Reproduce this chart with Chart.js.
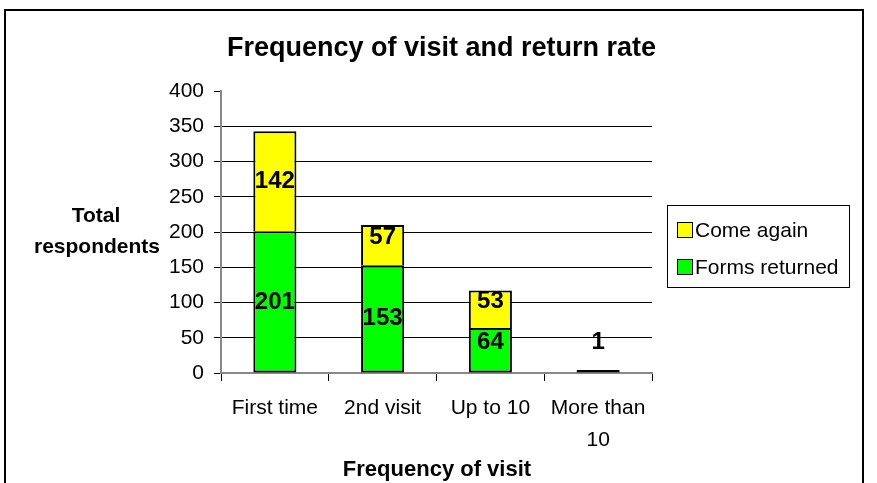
<!DOCTYPE html>
<html>
<head>
<meta charset="utf-8">
<script src="https://cdn.jsdelivr.net/npm/chart.js@4.4.1/dist/chart.umd.min.js"></script>
<style>
html,body{margin:0;padding:0;background:#fff;}
#wrap{width:877px;height:483px;position:relative;}
</style>
</head>
<body>
<div id="wrap"><canvas id="c" width="877" height="483"></canvas></div>
<script>
const categories = ["First time", "2nd visit", "Up to 10", ["More than", "10"]];
const formsReturned = [201, 153, 64, 1];
const comeAgain = [142, 57, 53, null];
const seriesNames = ["Forms returned", "Come again"];
const yTicks = [0, 50, 100, 150, 200, 250, 300, 350, 400];
const chartTitle = "Frequency of visit and return rate";
const xTitle = "Frequency of visit";
const yTitle = ["Total", "respondents"];

const FONT = "'Liberation Sans', Arial, sans-serif";
Chart.defaults.font.family = FONT;
Chart.defaults.color = "#000";

const decor = {
  id: "decor",
  afterDraw(chart) {
    const ctx = chart.ctx;
    ctx.save();
    // outer frame
    ctx.strokeStyle = "#000";
    ctx.lineWidth = 2;
    ctx.strokeRect(5, 10, 858, 500);
    // title
    ctx.fillStyle = "#000";
    ctx.textAlign = "center";
    ctx.textBaseline = "alphabetic";
    ctx.font = "bold 27px " + FONT;
    ctx.fillText(chartTitle, 441.5, 56, 430);
    // y title
    ctx.font = "bold 21px " + FONT;
    ctx.fillText(yTitle[0], 96, 222);
    ctx.fillText(yTitle[1], 97, 253);
    // x title
    ctx.font = "bold 22px " + FONT;
    ctx.fillText(xTitle, 437, 476);
    // data labels
    ctx.font = "bold 24px " + FONT;
    ctx.textBaseline = "middle";
    chart.data.datasets.forEach((ds, i) => {
      const meta = chart.getDatasetMeta(i);
      ds.data.forEach((v, j) => {
        if (!v) return;
        const el = meta.data[j];
        const top = Math.min(el.y, el.base), bot = Math.max(el.y, el.base);
        const h = bot - top;
        let yc;
        if (h < 10) yc = top - 28;
        else if (h < 60) yc = (top + bot) / 2 - 8;
        else yc = (top + bot) / 2;
        ctx.fillText(String(v), el.x, yc);
      });
    });
    // legend
    ctx.lineWidth = 1;
    ctx.strokeStyle = "#000";
    ctx.strokeRect(667.5, 205.5, 182, 82);
    const legendOrder = [1, 0];
    ctx.font = "21px " + FONT;
    ctx.textAlign = "left";
    ctx.textBaseline = "alphabetic";
    legendOrder.forEach((di, k) => {
      const ds = chart.data.datasets[di];
      const y = 222 + k * 37;
      ctx.fillStyle = ds.backgroundColor;
      ctx.fillRect(677, y, 15, 15);
      ctx.strokeRect(677.5, y + 0.5, 15, 15);
      ctx.fillStyle = "#000";
      ctx.fillText(ds.label, 695, y + 15);
    });
    ctx.restore();
  }
};

new Chart(document.getElementById("c"), {
  type: "bar",
  data: {
    labels: categories,
    datasets: [
      { label: seriesNames[0], data: formsReturned, backgroundColor: "#00FF00", borderColor: "#000", borderWidth: 2, borderSkipped: false, minBarLength: 3 },
      { label: seriesNames[1], data: comeAgain, backgroundColor: "#FFFF00", borderColor: "#000", borderWidth: 2, borderSkipped: "bottom" }
    ]
  },
  options: {
    responsive: false,
    animation: false,
    events: [],
    layout: { padding: { left: 0, right: 225, top: 91, bottom: 0 } },
    plugins: { legend: { display: false }, title: { display: false }, tooltip: { enabled: false } },
    datasets: { bar: { categoryPercentage: 1, barPercentage: 0.4 } },
    scales: {
      x: {
        stacked: true,
        afterFit(s) { s.height = 110; },
        border: { color: "#888", width: 2 },
        grid: { drawOnChartArea: false, drawTicks: true, tickLength: 8, tickColor: "#000", tickWidth: 1 },
        ticks: { font: { size: 21, lineHeight: 1.52 }, color: "#000", padding: 11, maxRotation: 0, autoSkip: false }
      },
      y: {
        stacked: true,
        min: 0, max: 400,
        afterFit(s) { s.width = 221; },
        afterBuildTicks(s) { s.ticks = yTicks.map(v => ({ value: v })); },
        border: { color: "#888", width: 2 },
        grid: {
          color: (c) => (c.tick && (c.tick.value === 400 || c.tick.value === 0)) ? "rgba(0,0,0,0)" : "#000",
          tickColor: "#000", tickLength: 7, lineWidth: 1
        },
        ticks: { font: { size: 21 }, color: "#000", padding: 10 }
      }
    }
  },
  plugins: [decor]
});
</script>
</body>
</html>
